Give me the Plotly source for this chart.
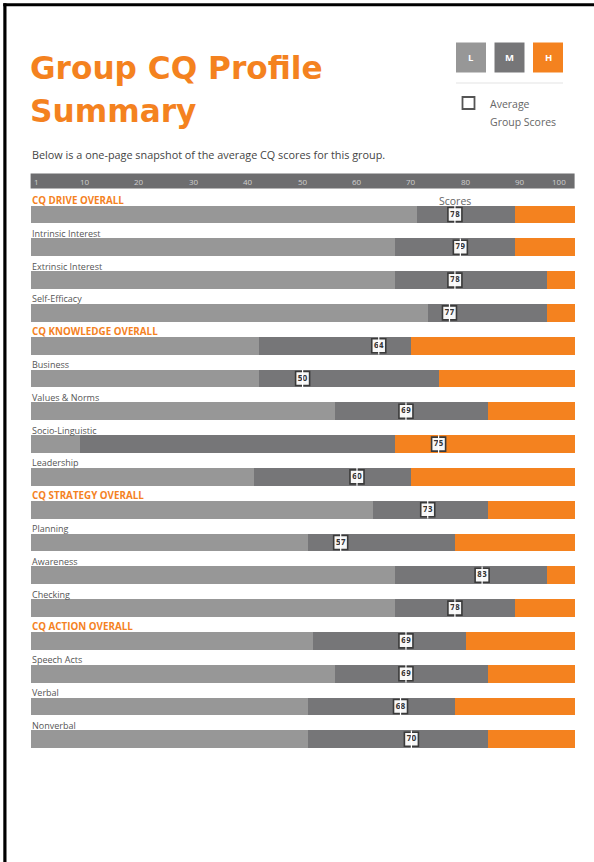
import plotly.graph_objects as go

# ---------------- data ----------------
categories = ["CQ DRIVE OVERALL", "Intrinsic Interest", "Extrinsic Interest", "Self-Efficacy",
              "CQ KNOWLEDGE OVERALL", "Business", "Values & Norms", "Socio-Linguistic", "Leadership",
              "CQ STRATEGY OVERALL", "Planning", "Awareness", "Checking",
              "CQ ACTION OVERALL", "Speech Acts", "Verbal", "Nonverbal"]
is_overall = [True, False, False, False,
              True, False, False, False, False,
              True, False, False, False,
              True, False, False, False]
low_end = [71, 67, 67, 73, 42, 42, 56, 9, 41, 63, 51, 67, 67, 52, 56, 51, 51]
mid_end = [89, 89, 95, 95, 70, 75, 84, 67, 70, 84, 78, 95, 89, 80, 84, 78, 84]
scores = [78, 79, 78, 77, 64, 50, 69, 75, 60, 73, 57, 83, 78, 69, 69, 68, 70]
tick_vals = [1, 10, 20, 30, 40, 50, 60, 70, 80, 90, 100]
tick_text = ["1", "10", "20", "30", "40", "50", "60", "70", "80", "90", "100"]
scale_max = 100

# ---------------- styling / layout ----------------
W, H = 594, 862
X0_PX, PX_PER = 30.6, 5.44            # where 0 sits, pixels per unit
C_L, C_M, C_H = "#979797", "#767678", "#f4821f"
C_AXIS = "#6d6d6f"
ORANGE = "#f4821f"
FONT = "Open Sans"
TITLE_FONT = "DejaVu Sans"

ROW0, ROW_STEP, BAR_H = 214.5, 32.8, 17.8
centers = [ROW0 + i * ROW_STEP for i in range(len(categories))]

def xp(px):  # pixel -> paper x
    return px / W

def yp(py):  # pixel -> paper y
    return 1 - py / H

n = len(categories)
fig = go.Figure()
fig.add_trace(go.Bar(orientation="h", y=centers, x=low_end, base=[0] * n, width=BAR_H,
                     marker=dict(color=C_L, line=dict(width=0)), hoverinfo="skip", showlegend=False))
fig.add_trace(go.Bar(orientation="h", y=centers, x=[m - l for m, l in zip(mid_end, low_end)],
                     base=low_end, width=BAR_H,
                     marker=dict(color=C_M, line=dict(width=0)), hoverinfo="skip", showlegend=False))
fig.add_trace(go.Bar(orientation="h", y=centers, x=[scale_max - m for m in mid_end],
                     base=mid_end, width=BAR_H,
                     marker=dict(color=C_H, line=dict(width=0)), hoverinfo="skip", showlegend=False))

shapes = []
# white score ticks through bars
for s, c in zip(scores, centers):
    shapes.append(dict(type="line", xref="x", yref="y", x0=s, x1=s,
                       y0=c - BAR_H / 2, y1=c + BAR_H / 2,
                       line=dict(color="white", width=1.2), layer="above"))

# score boxes
fig.add_trace(go.Scatter(x=scores, y=centers, mode="markers+text",
                         marker=dict(symbol="square", size=14, color="#f7f7f7",
                                     line=dict(color="#3a3a3a", width=1.6)),
                         text=[str(s) for s in scores], textposition="middle center",
                         textfont=dict(family=FONT, size=8.3, color="#333333", weight="bold"),
                         hoverinfo="skip", showlegend=False))

# axis header band
shapes.append(dict(type="rect", xref="x", yref="paper", x0=0, x1=scale_max,
                   y0=yp(188.5), y1=yp(173.5), fillcolor=C_AXIS, line=dict(width=0), layer="below"))

annotations = []
for v, t in zip(tick_vals, tick_text):
    anchor = "right" if v == scale_max else "center"
    annotations.append(dict(x=v if v != scale_max else v - 1.2, y=181.2, xref="x", yref="y",
                            text=t, showarrow=False, xanchor=anchor, yanchor="middle",
                            font=dict(family=FONT, size=8, color="#cfcfcf")))

# row labels
for cat, ov, c in zip(categories, is_overall, centers):
    annotations.append(dict(x=xp(30), y=c - 14, xref="paper", yref="y", text=cat,
                            showarrow=False, xanchor="left", yanchor="middle",
                            font=dict(family=FONT, size=9.8 if ov else 9,
                                      color=ORANGE if ov else "#555555",
                                      weight="bold" if ov else "normal")))

# "Scores" header above first marker
annotations.append(dict(x=scores[0], y=201, xref="x", yref="y", text="Scores", showarrow=False,
                        xanchor="center", yanchor="middle",
                        font=dict(family=FONT, size=10.5, color="#666666")))

# title & subtitle
annotations.append(dict(x=xp(28), y=yp(68), xref="paper", yref="paper", text="Group CQ Profile",
                        showarrow=False, xanchor="left", yanchor="middle",
                        font=dict(family=TITLE_FONT, size=31.2, color=ORANGE, weight="bold")))
annotations.append(dict(x=xp(28), y=yp(111), xref="paper", yref="paper", text="Summary",
                        showarrow=False, xanchor="left", yanchor="middle",
                        font=dict(family=TITLE_FONT, size=31.2, color=ORANGE, weight="bold")))
annotations.append(dict(x=xp(29.5), y=yp(154.5), xref="paper", yref="paper",
                        text="Below is a one-page snapshot of the average CQ scores for this group.",
                        showarrow=False, xanchor="left", yanchor="middle",
                        font=dict(family=FONT, size=10.85, color="#444444")))

# legend boxes L / M / H
for lab, col, x0 in [("L", C_L, 456), ("M", C_M, 494.5), ("H", C_H, 533)]:
    shapes.append(dict(type="rect", xref="paper", yref="paper", x0=xp(x0), x1=xp(x0 + 30),
                       y0=yp(72.5), y1=yp(42.5), fillcolor=col, line=dict(width=0)))
    annotations.append(dict(x=xp(x0 + 15), y=yp(57.5), xref="paper", yref="paper", text=lab,
                            showarrow=False, xanchor="center", yanchor="middle",
                            font=dict(family=FONT, size=9.5, color="white", weight="bold")))
shapes.append(dict(type="line", xref="paper", yref="paper", x0=xp(456), x1=xp(563),
                   y0=yp(83), y1=yp(83), line=dict(color="#e3e3e3", width=1)))
shapes.append(dict(type="rect", xref="paper", yref="paper", x0=xp(462.5), x1=xp(474.5),
                   y0=yp(109), y1=yp(97), fillcolor="white", line=dict(color="#555555", width=1.8)))
annotations.append(dict(x=xp(488), y=yp(103.5), xref="paper", yref="paper", text="Average",
                        showarrow=False, xanchor="left", yanchor="middle",
                        font=dict(family=FONT, size=10.5, color="#666666")))
annotations.append(dict(x=xp(488), y=yp(122), xref="paper", yref="paper", text="Group Scores",
                        showarrow=False, xanchor="left", yanchor="middle",
                        font=dict(family=FONT, size=10.5, color="#666666")))

# page border (left and top)
shapes.append(dict(type="rect", xref="paper", yref="paper", x0=xp(3.3), x1=xp(6.5),
                   y0=0, y1=yp(3.3), fillcolor="black", line=dict(width=0)))
shapes.append(dict(type="rect", xref="paper", yref="paper", x0=xp(3.3), x1=1,
                   y0=yp(6.3), y1=yp(3.3), fillcolor="black", line=dict(width=0)))

fig.update_layout(
    width=W, height=H, margin=dict(l=0, r=0, t=0, b=0),
    paper_bgcolor="white", plot_bgcolor="white",
    barmode="overlay", bargap=0,
    xaxis=dict(range=[-X0_PX / PX_PER, (W - X0_PX) / PX_PER], visible=False, fixedrange=True),
    yaxis=dict(range=[H, 0], visible=False, fixedrange=True),
    shapes=shapes, annotations=annotations, showlegend=False,
)
fig.write_html("out.html", config={"displayModeBar": False})
